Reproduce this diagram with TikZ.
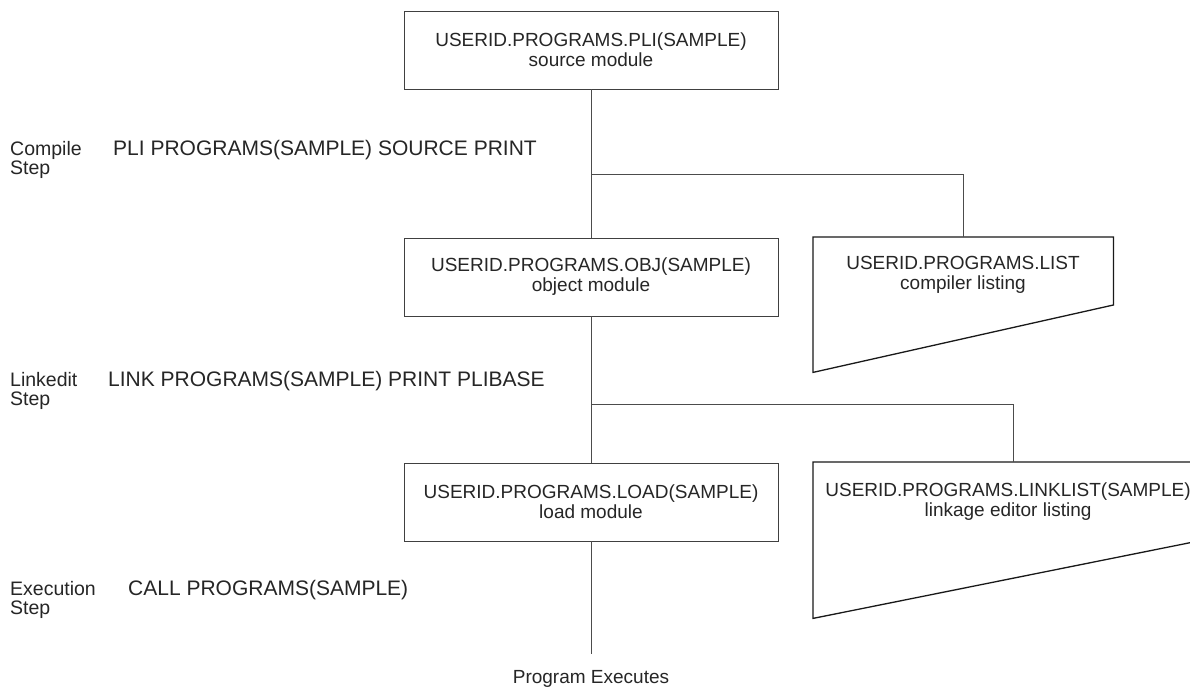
\documentclass[tikz,border=0pt]{standalone}
\usepackage{fontspec}
\setmainfont{Liberation Sans}
\begin{document}
\begin{tikzpicture}[x=1pt,y=-1pt,
  every node/.style={font=\fontsize{19}{20}\selectfont, text=black!85},
  dsbox/.style={draw=black!75, line width=0.9pt, minimum width=374pt, minimum height=78pt, align=center, inner sep=0pt},
  wire/.style={draw=black!70, line width=0.9pt},
  listing/.style={draw=black!90, line width=1.3pt, line join=miter},
  area/.style={inner sep=0pt, anchor=north west},
  lbl/.style={anchor=base west, inner sep=0pt, font=\fontsize{19.5}{20}\selectfont},
  cmd/.style={anchor=base west, inner sep=0pt, font=\fontsize{21}{22}\selectfont},
  ltxt/.style={align=center, inner sep=0pt}]
\clip (0,0) rectangle (1190,687);
\fill[white] (0,0) rectangle (1190,687);

% data set boxes
\node[dsbox] (src) at (591,50) {USERID.PROGRAMS.PLI(SAMPLE)\\source module};
\node[dsbox] (obj) at (591,277) {USERID.PROGRAMS.OBJ(SAMPLE)\\object module};
\node[dsbox] (load) at (591,502) {USERID.PROGRAMS.LOAD(SAMPLE)\\load module};

% listing shapes
\node[area, minimum width=300pt, minimum height=135pt] (lst1) at (813,237) {};
\draw[listing] (lst1.north west) -- (lst1.north east) -- ([yshift=-68pt]lst1.north east) -- (lst1.south west) -- cycle;
\node[ltxt] (lst1t) at (963,275) {USERID.PROGRAMS.LIST\\compiler listing};

\node[area, minimum width=400pt, minimum height=156pt] (lst2) at (813,462) {};
\draw[listing] (lst2.north west) -- (lst2.north east) -- ([yshift=-76pt]lst2.north east) -- (lst2.south west) -- cycle;
\node[ltxt] (lst2t) at (1008,502) {USERID.PROGRAMS.LINKLIST(SAMPLE)\\linkage editor listing};

% step labels
\node[lbl] (c1) at (10,156) {Compile};
\node[lbl] (c2) at (10,175) {Step};
\node[cmd] (c3) at (113,156) {PLI PROGRAMS(SAMPLE) SOURCE PRINT};
\node[lbl] (l1) at (10,386) {Linkedit};
\node[lbl] (l2) at (10,405) {Step};
\node[cmd] (l3) at (108,386) {LINK PROGRAMS(SAMPLE) PRINT PLIBASE};
\node[lbl] (e1) at (10,595) {Execution};
\node[lbl] (e2) at (10,614) {Step};
\node[cmd] (e3) at (128,595) {CALL PROGRAMS(SAMPLE)};
\node[anchor=base, inner sep=0pt] (run) at (591,683) {Program Executes};

% connectors
\coordinate (j1) at (591,174);
\coordinate (j2) at (591,404);
\coordinate (endp) at (591,654);
\draw[wire] (src.south) -- (obj.north);
\draw[wire] (j1) -| (lst1.north);
\draw[wire] (obj.south) -- (load.north);
\draw[wire] (j2) -| (lst2.north);
\draw[wire] (load.south) -- (endp);
\end{tikzpicture}
\end{document}
